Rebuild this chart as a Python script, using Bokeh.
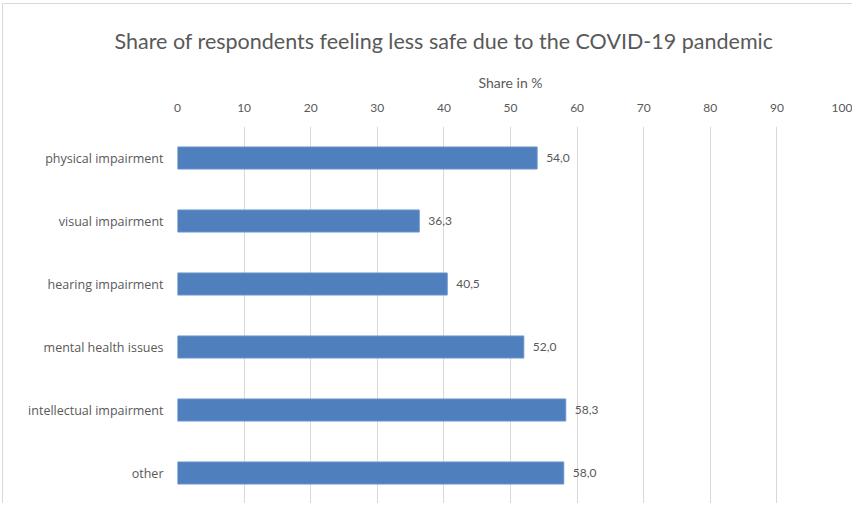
from bokeh.plotting import figure
from bokeh.models import ColumnDataSource, FixedTicker, Range1d
from bokeh.core.properties import value
from bokeh.embed import file_html
from bokeh.resources import INLINE

categories = ["physical impairment", "visual impairment", "hearing impairment",
              "mental health issues", "intellectual impairment", "other"]
shares = [54.0, 36.3, 40.5, 52.0, 58.3, 58.0]
tick_values = [0, 10, 20, 30, 40, 50, 60, 70, 80, 90, 100]

title_text = "Share of respondents feeling less safe due to the COVID-19 pandemic"
axis_title = "Share in %"

labels = [f"{v:.1f}".replace(".", ",") for v in shares]
src = ColumnDataSource(dict(cat=categories, share=shares, label=labels))

p = figure(width=850, height=500, output_backend="svg", toolbar_location=None,
           y_range=list(reversed(categories)), x_range=Range1d(0, 100),
           x_axis_location="above", title=title_text)
p.margin = (3, 0, 0, 2)
p.styles = {"border-left": "1px solid #d9d9d9", "border-top": "1px solid #d9d9d9"}
p.min_border_left = 174
p.min_border_right = 10
p.min_border_top = 122
p.min_border_bottom = 0
p.outline_line_color = None

p.title.text_font = "Lato"
p.title.text_font_size = "21.5px"
p.title.text_font_style = "normal"
p.title.text_color = "#595959"
p.title.align = "left"
p.title.offset = -63
p.title.standoff = 33

p.hbar(y="cat", right="share", height=0.35, left=0, source=src,
       fill_color="#4f7fbd", line_color="#6a95cc", line_width=1)

p.text(x="share", y="cat", text="label", source=src, x_offset=9,
       text_baseline="middle", text_align="left", text_font=value("Lato"),
       text_font_size="12px", text_color="#595959")

xa = p.xaxis[0]
xa.ticker = FixedTicker(ticks=tick_values)
xa.axis_label = axis_title
xa.axis_label_text_font = "Lato"
xa.axis_label_text_font_size = "14px"
xa.axis_label_text_font_style = "normal"
xa.axis_label_text_color = "#595959"
xa.axis_label_standoff = 10
xa.major_label_text_font = "Lato"
xa.major_label_text_font_size = "12px"
xa.major_label_text_color = "#595959"
xa.major_label_standoff = 9
xa.axis_line_color = None
xa.major_tick_line_color = None
xa.minor_tick_line_color = None

ya = p.yaxis[0]
ya.major_label_text_font = "Open Sans"
ya.major_label_text_font_size = "12.5px"
ya.major_label_text_color = "#595959"
ya.major_label_standoff = 8
ya.axis_line_color = None
ya.major_tick_line_color = None
ya.minor_tick_line_color = None

p.xgrid.grid_line_color = "#d9d9d9"
p.xgrid.grid_line_width = 1
p.ygrid.grid_line_color = None

open("out.html", "w").write(file_html(p, INLINE))
